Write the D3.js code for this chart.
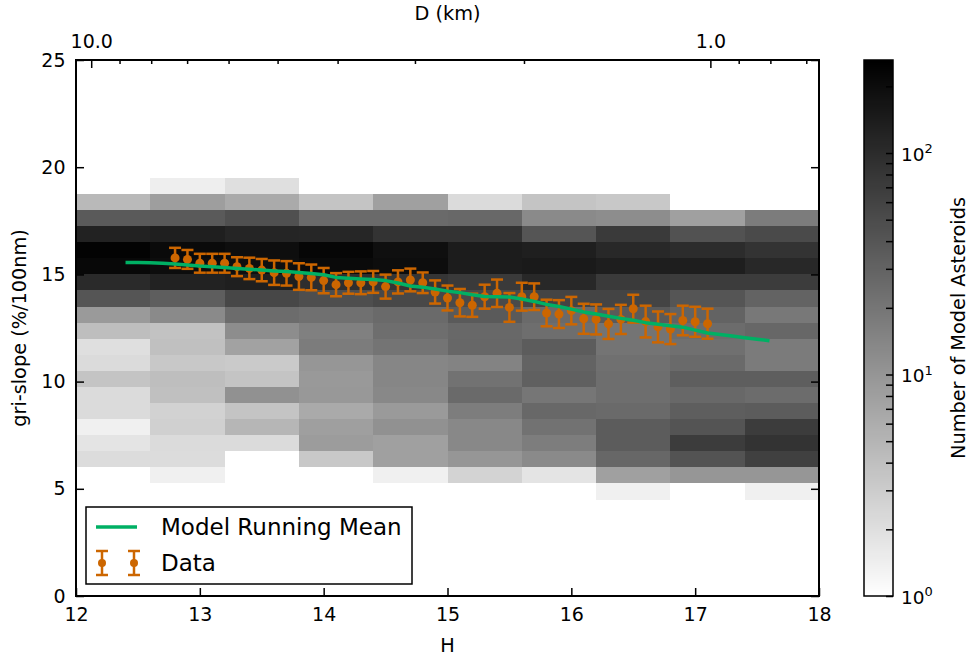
<!DOCTYPE html>
<html>
<head>
<meta charset="utf-8">
<script src="https://cdn.jsdelivr.net/npm/d3@7"></script>
<style>
  body { margin: 0; background: #fff; }
  text { font-family: "DejaVu Sans", sans-serif; fill: #000; }
</style>
</head>
<body>
<svg id="chart" width="969" height="658"></svg>
<script>
// ---- 2D histogram of model asteroids (H vs gri-slope) ----
const hBinLow = [12.0, 12.6, 13.2, 13.8, 14.4, 15.0, 15.6, 16.2, 16.8, 17.4];
const hBinWidth = 0.6;
const slopeBinLow = [18.75, 18.0, 17.25, 16.5, 15.75, 15.0, 14.25, 13.5, 12.75, 12.0,
                     11.25, 10.5, 9.75, 9.0, 8.25, 7.5, 6.75, 6.0, 5.25, 4.5];
const slopeBinWidth = 0.75;
// one row per slope bin (top to bottom), one column per H bin; null = empty
const modelCounts = [
  [null, 1.45, 2.0, null, null, null, null, null, null, null],
  [4.6, 8.3, 6.4, 3.6, 8.0, 2.2, 3.6, 3.3, null, null],
  [37, 37, 46, 26, 26, 27, 13, 12, 8.0, 17.5],
  [125, 134, 117, 115, 86, 86, 41, 74, 44, 52],
  [246, 211, 194, 231, 190, 143, 134, 110, 100, 86],
  [221, 198, 190, 211, 198, 143, 149, 137, 137, 110],
  [105, 125, 134, 96, 83, 74, 110, 74, 71, 71],
  [41, 34, 56, 48, 55, 52, 60, 60, 41, 30],
  [9.1, 13, 25, 23, 26, 37, 26, 37, 30, 19],
  [4.1, 3.8, 12, 16, 24, 27, 24, 21, 25, 28],
  [2.0, 4.0, 7.6, 17.5, 21, 28, 35, 21, 23, 18],
  [2.2, 3.3, 3.2, 9.9, 14, 15, 30, 23, 26, 18],
  [3.6, 4.1, 3.6, 9.3, 14, 22, 32, 24, 34, 34],
  [2.2, 4.0, 11, 9.5, 13.5, 26, 20, 24, 27, 25],
  [2.2, 2.7, 3.6, 6.4, 9.1, 17, 27, 26, 34, 35],
  [1.4, 2.8, 4.9, 8.1, 11, 13.5, 22, 35, 42, 71],
  [1.8, 2.2, 2.2, 8.7, 8.0, 13.5, 17, 35, 71, 86],
  [2.15, 2.15, null, 3.3, 8.0, 9.9, 13, 28, 43, 65],
  [null, 1.4, null, null, 1.4, 2.6, 1.8, 8.0, 9.9, 9.9],
  [null, null, null, null, null, null, null, 1.4, null, 1.4]
];
const countMax = 263;

// ---- model running mean ----
const meanH = [12.4, 12.5, 12.6, 12.7, 12.8, 12.9, 13.0, 13.1, 13.2, 13.3, 13.4, 13.5, 13.6, 13.7,
  13.8, 13.9, 14.0, 14.1, 14.2, 14.3, 14.4, 14.5, 14.6, 14.7, 14.8, 14.9, 15.0, 15.1, 15.2, 15.3,
  15.4, 15.5, 15.6, 15.7, 15.8, 15.9, 16.0, 16.1, 16.2, 16.3, 16.4, 16.5, 16.6, 16.7, 16.8, 16.9,
  17.0, 17.1, 17.2, 17.3, 17.4, 17.5, 17.6];
const meanSlope = [15.55, 15.55, 15.54, 15.52, 15.49, 15.44, 15.39, 15.36, 15.32, 15.28, 15.24,
  15.20, 15.16, 15.13, 15.09, 15.04, 14.98, 14.86, 14.82, 14.79, 14.76, 14.71, 14.60, 14.46, 14.40,
  14.32, 14.22, 14.15, 14.05, 13.97, 13.96, 13.95, 13.85, 13.74, 13.60, 13.50, 13.38, 13.25, 13.15,
  13.05, 12.95, 12.86, 12.75, 12.68, 12.60, 12.54, 12.40, 12.27, 12.20, 12.13, 12.05, 11.98, 11.91];

// ---- observed data with 1-sigma errors ----
const dataH = [12.8, 12.9, 13.0, 13.1, 13.2, 13.3, 13.4, 13.5, 13.6, 13.7, 13.8, 13.9, 14.0, 14.1,
  14.2, 14.3, 14.4, 14.5, 14.6, 14.7, 14.8, 14.9, 15.0, 15.1, 15.2, 15.3, 15.4, 15.5, 15.6, 15.7,
  15.8, 15.9, 16.0, 16.1, 16.2, 16.3, 16.4, 16.5, 16.6, 16.7, 16.8, 16.9, 17.0, 17.1];
const dataSlope = [15.77, 15.70, 15.52, 15.52, 15.52, 15.36, 15.28, 15.20, 15.08, 15.05, 14.90,
  14.86, 14.71, 14.52, 14.61, 14.61, 14.65, 14.43, 14.65, 14.74, 14.61, 14.18, 13.90, 13.68, 13.56,
  13.96, 14.12, 13.46, 13.96, 13.96, 13.20, 13.15, 13.31, 12.93, 12.90, 12.69, 12.90, 13.40, 12.80,
  12.55, 12.45, 12.85, 12.79, 12.70];
const dataErr = [0.47, 0.44, 0.44, 0.44, 0.44, 0.44, 0.50, 0.52, 0.57, 0.57, 0.62, 0.60, 0.59, 0.54,
  0.51, 0.53, 0.51, 0.56, 0.54, 0.53, 0.48, 0.54, 0.58, 0.64, 0.54, 0.56, 0.64, 0.67, 0.65, 0.62,
  0.62, 0.65, 0.64, 0.70, 0.70, 0.70, 0.68, 0.65, 0.74, 0.72, 0.70, 0.69, 0.70, 0.70];

// ---- axis ticks ----
const hTicks = [12, 13, 14, 15, 16, 17, 18];
const slopeTicks = [0, 5, 10, 15, 20, 25];
const diamMajor = [10, 1];
const diamMinor = [9, 8, 7, 6, 5, 4, 3, 2, 0.9, 0.8, 0.7];
const albedo = 0.25;
const countMajor = [1, 10, 100];
const countMinor = [2, 3, 4, 5, 6, 7, 8, 9, 20, 30, 40, 50, 60, 70, 80, 90, 200];

const seriesColor = { mean: "#00b064", data: "#cc6600" };
const tickFont = "19px";
const labelFont = "19.3px";

const svg = d3.select("#chart");
const m = { left: 76, right: 819, top: 60, bottom: 596 };

const x = d3.scaleLinear().domain([12, 18]).range([m.left, m.right]);
const y = d3.scaleLinear().domain([0, 25]).range([m.bottom, m.top]);
const color = d3.scaleLog().domain([1, countMax]).range(["#ffffff", "#000000"])
  .interpolate(d3.interpolateRgb).clamp(true);

// diameter (km) from absolute magnitude for the assumed albedo
const dFromH = h => 1329 / Math.sqrt(albedo) * Math.pow(10, -h / 5);
const xD = d3.scaleLog().domain([dFromH(12), dFromH(18)]).range([m.left, m.right]);

// heatmap cells
const cells = [];
modelCounts.forEach((row, i) => row.forEach((c, j) => {
  if (c != null) cells.push({ h: hBinLow[j], s: slopeBinLow[i], c });
}));
svg.append("g").attr("shape-rendering", "crispEdges")
  .selectAll("rect").data(cells).join("rect")
  .attr("x", d => x(d.h))
  .attr("y", d => y(d.s + slopeBinWidth))
  .attr("width", d => x(d.h + hBinWidth) - x(d.h))
  .attr("height", d => y(d.s) - y(d.s + slopeBinWidth))
  .attr("fill", d => color(d.c));

// data error bars
const dataPts = dataH.map((h, i) => ({ h, s: dataSlope[i], e: dataErr[i] }));
const eb = svg.append("g").attr("stroke", seriesColor.data).attr("stroke-width", 2.5);
eb.selectAll("line.v").data(dataPts).join("line").attr("class", "v")
  .attr("x1", d => x(d.h)).attr("x2", d => x(d.h))
  .attr("y1", d => y(d.s - d.e)).attr("y2", d => y(d.s + d.e));
eb.selectAll("line.ct").data(dataPts).join("line").attr("class", "ct")
  .attr("x1", d => x(d.h) - 6).attr("x2", d => x(d.h) + 6)
  .attr("y1", d => y(d.s + d.e)).attr("y2", d => y(d.s + d.e));
eb.selectAll("line.cb").data(dataPts).join("line").attr("class", "cb")
  .attr("x1", d => x(d.h) - 6).attr("x2", d => x(d.h) + 6)
  .attr("y1", d => y(d.s - d.e)).attr("y2", d => y(d.s - d.e));
svg.append("g").selectAll("circle").data(dataPts).join("circle")
  .attr("cx", d => x(d.h)).attr("cy", d => y(d.s)).attr("r", 4.5)
  .attr("fill", seriesColor.data);

// running mean line
const meanPts = meanH.map((h, i) => [h, meanSlope[i]]);
svg.append("path").datum(meanPts)
  .attr("fill", "none").attr("stroke", seriesColor.mean).attr("stroke-width", 3.5)
  .attr("stroke-linejoin", "round")
  .attr("d", d3.line().x(d => x(d[0])).y(d => y(d[1])));

// axes (ticks pointing inward)
const styleAxis = g => {
  g.select(".domain").remove();
  g.selectAll(".tick line").attr("stroke", "#000").attr("stroke-width", 1.5);
  g.selectAll(".tick text").style("font-size", tickFont).style("font-family", "DejaVu Sans");
};
svg.append("g").attr("transform", `translate(0,${m.bottom})`)
  .call(d3.axisBottom(x).tickValues(hTicks).tickFormat(d3.format("d")).tickSizeInner(-8).tickSizeOuter(0).tickPadding(11.5))
  .call(styleAxis);
svg.append("g").attr("transform", `translate(${m.left},0)`)
  .call(d3.axisLeft(y).tickValues(slopeTicks).tickFormat(d3.format("d")).tickSizeInner(-8).tickSizeOuter(0).tickPadding(10.5))
  .call(styleAxis);
svg.append("g").attr("transform", `translate(${m.right},0)`)
  .call(d3.axisRight(y).tickValues(slopeTicks).tickFormat("").tickSizeInner(-8).tickSizeOuter(0))
  .call(styleAxis);
svg.append("g").attr("transform", `translate(0,${m.top})`)
  .call(d3.axisTop(xD).tickValues(diamMajor).tickFormat(d3.format(".1f")).tickSizeInner(-8).tickSizeOuter(0).tickPadding(12))
  .call(styleAxis);
svg.append("g").attr("transform", `translate(0,${m.top})`)
  .call(d3.axisTop(xD).tickValues(diamMinor).tickFormat("").tickSizeInner(-4).tickSizeOuter(0))
  .call(styleAxis);

// frame
svg.append("rect").attr("x", m.left).attr("y", m.top)
  .attr("width", m.right - m.left).attr("height", m.bottom - m.top)
  .attr("fill", "none").attr("stroke", "#000").attr("stroke-width", 2);

// axis titles
svg.append("text").attr("x", (m.left + m.right) / 2).attr("y", 651.5)
  .attr("text-anchor", "middle").style("font-size", labelFont).text("H");
svg.append("text").attr("x", (m.left + m.right) / 2).attr("y", 20)
  .attr("text-anchor", "middle").style("font-size", labelFont).text("D (km)");
svg.append("text").attr("transform", `translate(26,${(m.top + m.bottom) / 2}) rotate(-90)`)
  .attr("text-anchor", "middle").style("font-size", labelFont).text("gri-slope (%/100nm)");

// legend
const lg = svg.append("g");
lg.append("rect").attr("x", 86).attr("y", 507).attr("width", 326).attr("height", 77)
  .attr("fill", "#fff").attr("stroke", "#000").attr("stroke-width", 1.5);
lg.append("line").attr("x1", 96).attr("x2", 137).attr("y1", 527).attr("y2", 527)
  .attr("stroke", seriesColor.mean).attr("stroke-width", 3.5);
lg.append("text").attr("x", 161).attr("y", 535).style("font-size", "23px").text("Model Running Mean");
[102, 134].forEach(cx => {
  const g = lg.append("g").attr("stroke", seriesColor.data).attr("stroke-width", 2.5);
  g.append("line").attr("x1", cx).attr("x2", cx).attr("y1", 551).attr("y2", 575);
  g.append("line").attr("x1", cx - 6).attr("x2", cx + 6).attr("y1", 551).attr("y2", 551);
  g.append("line").attr("x1", cx - 6).attr("x2", cx + 6).attr("y1", 575).attr("y2", 575);
  lg.append("circle").attr("cx", cx).attr("cy", 563).attr("r", 4).attr("fill", seriesColor.data);
});
lg.append("text").attr("x", 161).attr("y", 571).style("font-size", "23px").text("Data");

// colorbar
const cb = { x: 864, w: 29 };
const yc = d3.scaleLog().domain([1, countMax]).range([m.bottom, m.top]);
const steps = d3.range(0, 268);
const stepH = (m.bottom - m.top) / steps.length;
svg.append("g").attr("shape-rendering", "crispEdges")
  .selectAll("rect").data(steps).join("rect")
  .attr("x", cb.x).attr("width", cb.w)
  .attr("y", i => m.bottom - (i + 1) * stepH).attr("height", stepH + 0.6)
  .attr("fill", i => color(yc.invert(m.bottom - (i + 0.5) * stepH)));
svg.append("g").attr("transform", `translate(${cb.x + cb.w},0)`)
  .call(d3.axisRight(yc).tickValues(countMinor).tickFormat("").tickSizeInner(-7).tickSizeOuter(0))
  .call(styleAxis);
const cbMaj = svg.append("g").attr("transform", `translate(${cb.x + cb.w},0)`)
  .call(d3.axisRight(yc).tickValues(countMajor).tickFormat("").tickSizeInner(-7).tickSizeOuter(0))
  .call(styleAxis);
cbMaj.selectAll(".tick").each(function (d) {
  const t = d3.select(this).append("text").attr("x", 8).attr("y", 0).attr("dy", "0.4em")
    .attr("text-anchor", "start").style("font-size", "18.5px");
  t.append("tspan").text("10");
  t.append("tspan").attr("dy", "-0.6em").style("font-size", "13px").text(Math.round(Math.log10(d)));
});
svg.append("rect").attr("x", cb.x).attr("y", m.top).attr("width", cb.w).attr("height", m.bottom - m.top)
  .attr("fill", "none").attr("stroke", "#000").attr("stroke-width", 1.5);
svg.append("text").attr("transform", `translate(965,${(m.top + m.bottom) / 2}) rotate(-90)`)
  .attr("text-anchor", "middle").style("font-size", labelFont).text("Number of Model Asteroids");
</script>
</body>
</html>
